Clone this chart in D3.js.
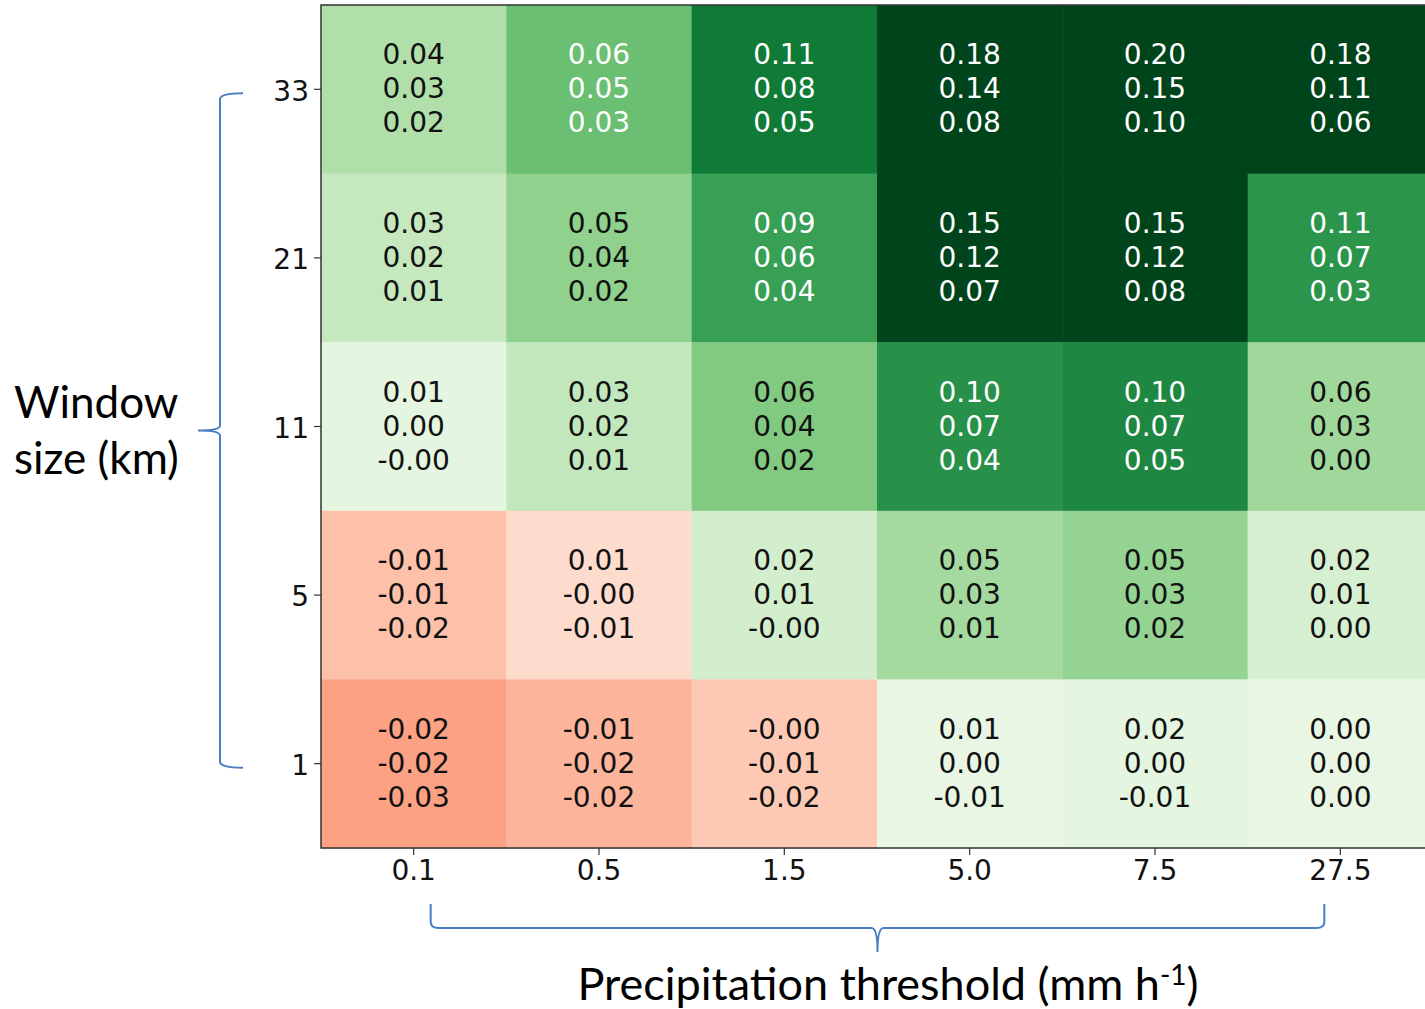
<!DOCTYPE html>
<html>
<head>
<meta charset="utf-8">
<script src="https://cdn.jsdelivr.net/npm/d3@7"></script>
<style>
  body { margin: 0; background: #fff; }
  svg { display: block; }
</style>
</head>
<body>
<script>
const width = 1425;
const height = 1009;

// window sizes (km), top to bottom
const windows = ["33", "21", "11", "5", "1"];
// precipitation thresholds (mm h-1)
const thresholds = ["0.1", "0.5", "1.5", "5.0", "7.5", "27.5"];

// three numbers printed in every cell, rows follow `windows`
const upperVals = [
    ["0.04", "0.06", "0.11", "0.18", "0.20", "0.18"],
    ["0.03", "0.05", "0.09", "0.15", "0.15", "0.11"],
    ["0.01", "0.03", "0.06", "0.10", "0.10", "0.06"],
    ["-0.01", "0.01", "0.02", "0.05", "0.05", "0.02"],
    ["-0.02", "-0.01", "-0.00", "0.01", "0.02", "0.00"]
];
const middleVals = [
    ["0.03", "0.05", "0.08", "0.14", "0.15", "0.11"],
    ["0.02", "0.04", "0.06", "0.12", "0.12", "0.07"],
    ["0.00", "0.02", "0.04", "0.07", "0.07", "0.03"],
    ["-0.01", "-0.00", "0.01", "0.03", "0.03", "0.01"],
    ["-0.02", "-0.02", "-0.01", "0.00", "0.00", "0.00"]
];
const lowerVals = [
    ["0.02", "0.03", "0.05", "0.08", "0.10", "0.06"],
    ["0.01", "0.02", "0.04", "0.07", "0.08", "0.03"],
    ["-0.00", "0.01", "0.02", "0.04", "0.05", "0.00"],
    ["-0.02", "-0.01", "-0.00", "0.01", "0.02", "0.00"],
    ["-0.03", "-0.02", "-0.02", "-0.01", "-0.01", "0.00"]
];
// value used for the cell shading
const shadeVals = [
    [0.025, 0.047, 0.080, 0.133, 0.150, 0.117],
    [0.017, 0.036, 0.063, 0.113, 0.117, 0.068],
    [0.002, 0.018, 0.040, 0.070, 0.074, 0.031],
    [-0.013, -0.003, 0.011, 0.029, 0.034, 0.009],
    [-0.023, -0.017, -0.010, 0.000, 0.002, 0.000]
];

const plot = { left: 321, top: 5, right: 1433, bottom: 848 };

const svg = d3.select("body")
    .append("svg")
    .attr("width", width)
    .attr("height", height);

const x = d3.scaleBand()
    .domain(thresholds)
    .range([plot.left, plot.right]);

const y = d3.scaleBand()
    .domain(windows)
    .range([plot.top, plot.bottom]);

const greenT = d3.scaleLinear().domain([0, 0.1]).range([0.1, 1]).clamp(true);
const redT = d3.scaleLinear().domain([0, -0.09]).range([0.1, 1]).clamp(true);

function cellColor(v) {
    return v < 0 ? d3.interpolateReds(redT(v)) : d3.interpolateGreens(greenT(v));
}

const cells = [];
windows.forEach((w, i) => {
    thresholds.forEach((t, j) => {
        cells.push({
            w: w, t: t,
            shade: shadeVals[i][j],
            lines: [upperVals[i][j], middleVals[i][j], lowerVals[i][j]]
        });
    });
});

svg.append("g")
    .selectAll("rect")
    .data(cells)
    .join("rect")
    .attr("x", d => x(d.t))
    .attr("y", d => y(d.w))
    .attr("width", x.bandwidth() + 0.5)
    .attr("height", y.bandwidth() + 0.5)
    .attr("fill", d => cellColor(d.shade));

const labels = svg.append("g")
    .attr("font-family", "DejaVu Sans, sans-serif")
    .attr("font-size", 28)
    .attr("text-anchor", "middle")
    .selectAll("g")
    .data(cells)
    .join("g")
    .attr("fill", d => d.shade > 0.043 ? "#ffffff" : "#111111");

labels.selectAll("text")
    .data(d => d.lines.map((s, k) => ({ s: s, k: k, d: d })))
    .join("text")
    .attr("x", e => x(e.d.t) + x.bandwidth() / 2)
    .attr("y", e => y(e.d.w) + y.bandwidth() / 2 - 1 + (e.k - 1) * 34)
    .attr("dy", "0.36em")
    .text(e => e.s);

// frame
svg.append("rect")
    .attr("x", plot.left)
    .attr("y", plot.top)
    .attr("width", plot.right - plot.left)
    .attr("height", plot.bottom - plot.top)
    .attr("fill", "none")
    .attr("stroke", "#333")
    .attr("stroke-width", 1.5);

const xAxis = svg.append("g")
    .attr("transform", `translate(0,${plot.bottom})`)
    .call(d3.axisBottom(x).tickSize(7).tickPadding(5));
const yAxis = svg.append("g")
    .attr("transform", `translate(${plot.left},0)`)
    .call(d3.axisLeft(y).tickSize(7).tickPadding(5));

[xAxis, yAxis].forEach(a => {
    a.select(".domain").remove();
    a.selectAll(".tick line").attr("stroke", "#333").attr("stroke-width", 1.2);
    a.selectAll(".tick text")
        .attr("font-family", "DejaVu Sans, sans-serif")
        .attr("font-size", 28)
        .attr("fill", "#111");
});
yAxis.selectAll(".tick text").attr("dy", "0.4em");

// braces
const brace = "#4a7ec4";
const xl = x(thresholds[0]) + x.bandwidth() / 2 + 17;
const xr = x(thresholds[5]) + x.bandwidth() / 2 - 16;
const xm = (xl + xr) / 2;
svg.append("path")
    .attr("d", `M${xl},904 L${xl},922 Q${xl},928 ${xl + 8},928 L${xm - 6},928 Q${xm},928 ${xm},952 Q${xm},928 ${xm + 6},928 L${xr - 8},928 Q${xr},928 ${xr},922 L${xr},904`)
    .attr("fill", "none")
    .attr("stroke", brace)
    .attr("stroke-width", 2);

const yt = y("33") + y.bandwidth() / 2 + 4;
const yb = y("1") + y.bandwidth() / 2 + 4;
const ym = (yt + yb) / 2;
svg.append("path")
    .attr("d", `M243,${yt} Q220,${yt} 220,${yt + 6} L220,${ym - 5} Q220,${ym} 198,${ym} Q220,${ym} 220,${ym + 5} L220,${yb - 6} Q220,${yb} 243,${yb}`)
    .attr("fill", "none")
    .attr("stroke", brace)
    .attr("stroke-width", 2);

// axis titles
svg.append("text")
    .attr("x", 888)
    .attr("y", 1000)
    .attr("text-anchor", "middle")
    .attr("font-family", "Lato, sans-serif")
    .attr("font-size", 45)
    .attr("fill", "#000")
    .html('Precipitation threshold (mm h<tspan dy="-15" font-size="28">-1</tspan><tspan dy="15">)</tspan>');

const yTitle = svg.append("text")
    .attr("font-family", "Lato, sans-serif")
    .attr("font-size", 44)
    .attr("fill", "#000");
yTitle.append("tspan").attr("x", 14).attr("y", 418).text("Window");
yTitle.append("tspan").attr("x", 14).attr("y", 474).text("size (km)");
</script>
</body>
</html>
